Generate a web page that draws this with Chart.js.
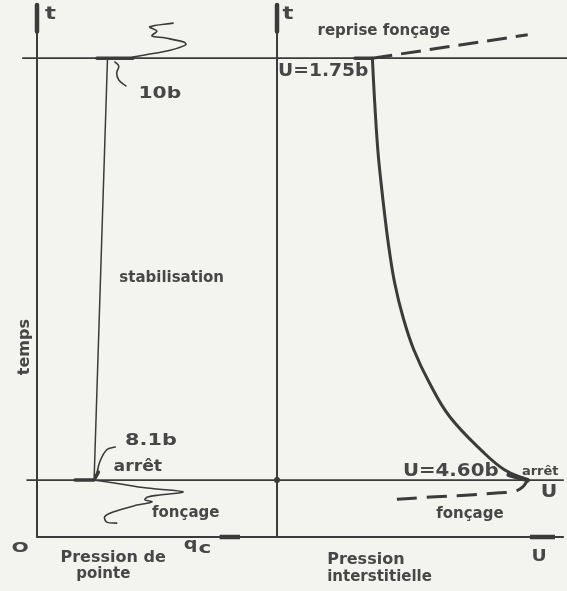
<!DOCTYPE html>
<html>
<head>
<meta charset="utf-8">
<script src="https://cdn.jsdelivr.net/npm/chart.js@4.4.1/dist/chart.umd.min.js"></script>
<style>
  html, body { margin: 0; padding: 0; background: #f3f3f0; }
  #wrap { position: relative; width: 567px; height: 591px; }
  canvas { position: absolute; left: 0; top: 0; }
</style>
</head>
<body>
<div id="wrap">
  <canvas id="left" width="567" height="591"></canvas>
  <canvas id="right" width="567" height="591"></canvas>
</div>
<script>
// ---------- data ----------
// time axis (arbitrary units)
const tAxisTop = 10;
const tArret = 1.07;        // arrêt du fonçage
const tReprise = 9.0;       // reprise du fonçage

// Pression de pointe qc (bar)
const qcArret = 8.1;
const qcReprise = 10;
const qcPanelEnd = 34.0;
// fonçage before stop (wiggly trace below arrêt)
const foncageQc = [8.1, 10.8, 15.6, 20.7, 17.4, 15.7, 15.3, 16.3, 14.2, 10.8, 9.6, 9.9, 11.3];
const foncageQcT = [1.07, 1.02, 0.92, 0.85, 0.79, 0.75, 0.70, 0.66, 0.60, 0.47, 0.38, 0.28, 0.26];
// reprise fonçage trace above the top line
const repriseQc = [13.6, 15.3, 18.9, 21.1, 20.9, 18.2, 16.3, 17.0, 16.0, 19.3];
const repriseQcT = [9.02, 9.06, 9.15, 9.25, 9.30, 9.38, 9.42, 9.51, 9.59, 9.66];

// Pression interstitielle U (bar)
const uArret = 4.60;
const uReprise = 1.75;
const uPanelEnd = 5.25;
// dissipation curve (time, U)
const dissU = [1.75, 1.79, 1.85, 1.91, 1.98, 2.06, 2.16, 2.31, 2.51, 2.80, 3.17, 3.78, 4.18, 4.60];
const dissT = [9.0, 8.21, 7.27, 6.65, 6.02, 5.39, 4.77, 4.14, 3.52, 2.89, 2.26, 1.60, 1.26, 1.07];
// fonçage (dashed) before stop
const foncageU = [2.20, 2.81, 3.54, 4.09, 4.37, 4.51, 4.60];
const foncageUT = [0.71, 0.75, 0.79, 0.83, 0.86, 0.94, 1.07];
// reprise fonçage (dashed) after stabilisation
const repriseU = [1.75, 4.60];
const repriseUT = [9.0, 9.44];

// ---------- drawing ----------
const INK = '#3b3b3b';
const TEXT = '#474747';
const F = "'DejaVu Sans', sans-serif";

function seg(xs, ys, o) {
  return Object.assign({
    data: xs.map((x, i) => ({ x: x, y: ys[i] })),
    showLine: true, pointRadius: 0, borderColor: INK, backgroundColor: INK,
    borderWidth: 2, tension: 0, fill: false, borderCapStyle: 'round', borderJoinStyle: 'round'
  }, o || {});
}

const labelPlugin = {
  id: 'sketchLabels',
  afterDatasetsDraw(chart, args, opts) {
    const ctx = chart.ctx, xs = chart.scales.x, ys = chart.scales.y;
    (opts.items || []).forEach(it => {
      const px = xs.getPixelForValue(it.x), py = ys.getPixelForValue(it.y);
      ctx.save();
      ctx.translate(px, py);
      if (it.rotate) ctx.rotate(it.rotate);
      ctx.scale(it.sx || 1, 1);
      ctx.font = it.font;
      ctx.fillStyle = it.color || TEXT;
      ctx.textAlign = it.align || 'center';
      ctx.textBaseline = 'middle';
      ctx.fillText(it.text, 0, 0);
      ctx.restore();
    });
  }
};

function baseOptions(xmin, xmax, items) {
  return {
    responsive: false, animation: false, events: [],
    layout: { padding: 0, autoPadding: false },
    scales: {
      x: { type: 'linear', min: xmin, max: xmax, display: false },
      y: { type: 'linear', min: -1.015, max: 10.094, display: false }
    },
    plugins: { legend: { display: false }, tooltip: { enabled: false }, sketchLabels: { items: items } }
  };
}

const bold = s => 'bold ' + s + 'px ' + F;

// left panel : qc vs t
new Chart(document.getElementById('left'), {
  type: 'scatter',
  data: { datasets: [
    seg([0, 0], [tAxisTop, 0], { borderWidth: 2 }),
    seg([0, 0], [tAxisTop, 9.5], { borderWidth: 4.5, borderCapStyle: 'butt' }),
    seg([0, qcPanelEnd], [0, 0], { borderWidth: 2 }),
    seg([25.9, 28.8], [0, 0], { borderWidth: 4.5, borderCapStyle: 'butt' }),
    seg([-2.0, qcPanelEnd], [tReprise, tReprise], { borderWidth: 1.8 }),
    seg([-1.4, qcPanelEnd], [tArret, tArret], { borderWidth: 1.8 }),
    seg([8.5, 13.6], [tReprise, tReprise], { borderWidth: 3.5 }),
    seg([5.4, qcArret], [tArret, tArret], { borderWidth: 3.5 }),
    seg([qcArret, qcReprise], [tArret, tReprise], { borderWidth: 1.5 }),
    seg(repriseQc, repriseQcT, { borderWidth: 1.6, tension: 0.35 }),
    seg(foncageQc, foncageQcT, { borderWidth: 1.6, tension: 0.35 }),
    seg([11.06, 11.6, 11.3, 11.6, 12.6], [8.93, 8.85, 8.72, 8.59, 8.48], { borderWidth: 1.6, tension: 0.4 }),
    seg([8.5, 8.9, 9.9, 11.1], [1.20, 1.41, 1.64, 1.69], { borderWidth: 1.6, tension: 0.4 }),
    seg([8.3, 8.7], [1.12, 1.22], { borderWidth: 3.5 })
  ]},
  options: baseOptions(-5.248, 75.18, [
    { text: 't', x: 1.9, y: 9.82, font: bold(17), sx: 1.35 },
    { text: qcReprise + 'b', x: 14.4, y: 8.32, font: bold(15), align: 'left', sx: 1.35 },
    { text: qcArret + 'b', x: 12.5, y: 1.80, font: bold(16), align: 'left', sx: 1.3 },
    { text: 'arrêt', x: 14.3, y: 1.32, font: bold(15), sx: 1.15 },
    { text: 'stabilisation', x: 19.1, y: 4.87, font: bold(15) },
    { text: 'fonçage', x: 21.1, y: 0.45, font: bold(15) },
    { text: 'temps', x: -1.7, y: 3.57, font: bold(16), rotate: -Math.PI / 2 },
    { text: 'O', x: -2.41, y: -0.21, font: bold(14), sx: 1.45 },
    { text: 'Pression de', x: 10.8, y: -0.40, font: bold(16) },
    { text: 'pointe', x: 9.4, y: -0.70, font: bold(15) },
    { text: 'q', x: 21.8, y: -0.14, font: bold(16), sx: 1.2 },
    { text: 'c', x: 23.8, y: -0.22, font: bold(16), sx: 1.35 }
  ]),
  plugins: [labelPlugin]
});

// right panel : U vs t
new Chart(document.getElementById('right'), {
  type: 'scatter',
  data: { datasets: [
    seg([0, 0], [tAxisTop, 0], { borderWidth: 2 }),
    seg([0, 0], [tAxisTop, 9.5], { borderWidth: 4.5, borderCapStyle: 'butt' }),
    seg([0, uPanelEnd], [0, 0], { borderWidth: 2 }),
    seg([4.64, 5.1], [0, 0], { borderWidth: 4.5, borderCapStyle: 'butt' }),
    seg([0, 5.33], [tReprise, tReprise], { borderWidth: 1.8 }),
    seg([0, uPanelEnd], [tArret, tArret], { borderWidth: 1.8 }),
    seg([1.43, uReprise], [tReprise, tReprise], { borderWidth: 3.5 }),
    seg([0], [tArret], { showLine: false, pointRadius: 3, pointBorderWidth: 0 }),
    seg(dissU, dissT, { borderWidth: 3, tension: 0.4 }),
    seg([4.25, uArret], [1.17, tArret], { borderWidth: 4.5 }),
    seg(repriseU, repriseUT, { borderWidth: 3, borderDash: [20, 9], borderCapStyle: 'butt' }),
    seg(foncageU, foncageUT, { borderWidth: 3, borderDash: [20, 10], tension: 0.35, borderCapStyle: 'butt' })
  ]},
  options: baseOptions(-5.083, 5.321, [
    { text: 't', x: 0.2, y: 9.82, font: bold(17), sx: 1.35 },
    { text: 'reprise fonçage', x: 1.96, y: 9.51, font: bold(15) },
    { text: 'U=' + uReprise.toFixed(2) + 'b', x: 0.02, y: 8.74, font: bold(17), align: 'left', sx: 1.1 },
    { text: 'U=' + uArret.toFixed(2) + 'b', x: 2.31, y: 1.23, font: bold(18), align: 'left', sx: 1.1 },
    { text: 'arrêt', x: 4.83, y: 1.23, font: bold(13) },
    { text: 'U', x: 4.99, y: 0.83, font: bold(17), sx: 1.2 },
    { text: 'fonçage', x: 3.54, y: 0.43, font: bold(15) },
    { text: 'Pression', x: 0.92, y: -0.43, font: bold(16), align: 'left' },
    { text: 'interstitielle', x: 0.92, y: -0.75, font: bold(15), align: 'left' },
    { text: 'U', x: 4.81, y: -0.38, font: bold(15), sx: 1.25 }
  ]),
  plugins: [labelPlugin]
});
</script>
</body>
</html>
